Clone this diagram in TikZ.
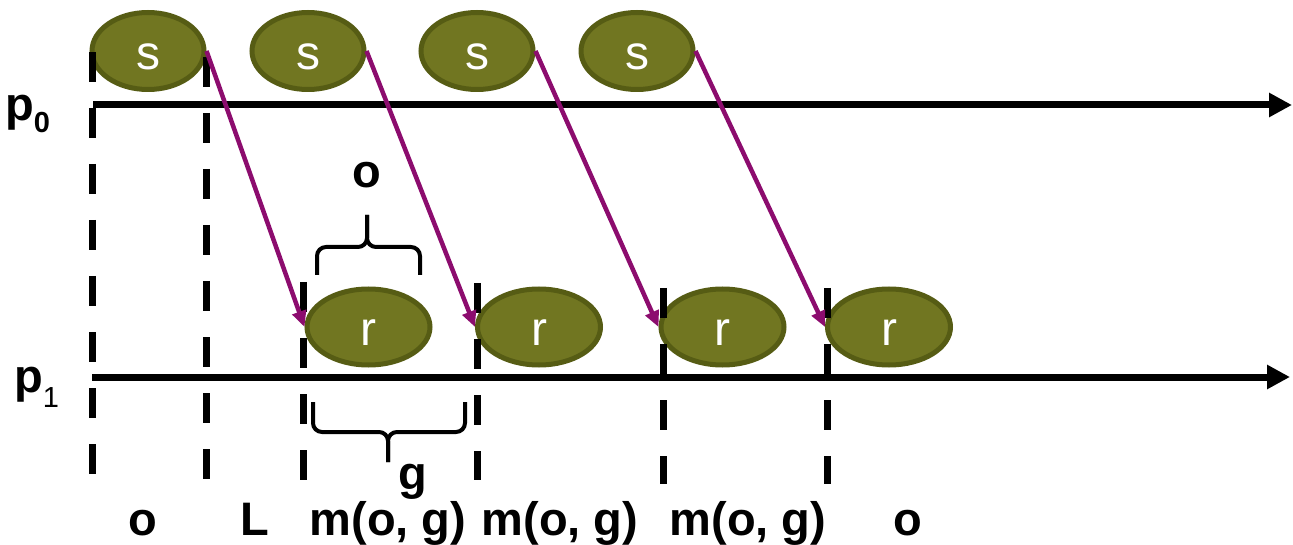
\documentclass[tikz,border=0pt]{standalone}
\usepackage{fontspec}
\setmainfont{Liberation Sans}
\usetikzlibrary{shapes.geometric,arrows.meta}
\definecolor{olivefill}{RGB}{113,118,33}
\definecolor{olivedraw}{RGB}{86,92,20}
\definecolor{msgcol}{RGB}{140,12,110}
\begin{document}
\begin{tikzpicture}[x=1pt,y=-1pt,
  sbox/.style={ellipse, draw=olivedraw, fill=olivefill, line width=5pt, minimum width=112pt, minimum height=77pt, inner sep=0pt},
  rbox/.style={sbox, minimum width=123pt, minimum height=76pt},
  intxt/.style={text=white, font=\fontsize{48}{48}\selectfont, anchor=base, inner sep=0pt},
  lbl/.style={font=\bfseries\fontsize{47}{47}\selectfont, anchor=base, inner sep=0pt},
  timeline/.style={line width=7pt, -{Triangle[length=23pt,width=23pt]}},
  msg/.style={draw=msgcol, line width=4.5pt, -{Triangle[length=16pt,width=14pt]}},
  tick/.style={line width=7pt, dash pattern=on 30pt off 26pt},
  brace/.style={line width=4pt, rounded corners=9pt}]
\useasboundingbox (0,0) rectangle (1293,545);

% timelines
\coordinate (p0s) at (93,105);
\coordinate (p0e) at (1292,105);
\coordinate (p1s) at (92,377);
\coordinate (p1e) at (1290,377);
\draw[timeline] (p0s) -- (p0e);
\draw[timeline] (p1s) -- (p1e);

% send events
\node[sbox] (s1) at (148,51) {};
\node[sbox] (s2) at (308,51) {};
\node[sbox] (s3) at (477,51) {};
\node[sbox] (s4) at (637,51) {};
\foreach \n in {s1,s2,s3,s4}
  \node[intxt] (t\n) at ([yshift=-19pt]\n.center) {s};

% receive events
\node[rbox] (r1) at (368.5,327) {};
\node[rbox] (r2) at (539,327) {};
\node[rbox] (r3) at (722.5,327) {};
\node[rbox] (r4) at (889,327) {};
\foreach \n in {r1,r2,r3,r4}
  \node[intxt] (t\n) at ([yshift=-18pt]\n.center) {r};

% dashed ticks
\draw[tick] (92,52) -- (92,474);
\draw[tick] (206,57) -- (206,480);
\draw[tick] (303,282) -- (303,480);
\draw[tick] (477,283) -- (477,480);
\draw[tick] (663,288) -- (663,484);
\draw[tick] (827,288) -- (827,484);

% messages
\draw[msg] (s1.east) -- (r1.west);
\draw[msg] (s2.east) -- (r2.west);
\draw[msg] (s3.east) -- (r3.west);
\draw[msg] (s4.east) -- (r4.west);

% braces
\draw[brace] (317,275) -- (317,247) -- (367,247) -- (367,215);
\draw[brace] (420,275) -- (420,247) -- (367,247) -- (367,215);
\draw[brace] (313,402) -- (313,432) -- (388,432) -- (388,462);
\draw[brace] (465,402) -- (465,432) -- (388,432) -- (388,462);

% labels
\node[lbl, anchor=base west] (p0) at (5,121) {p\raisebox{-12pt}{\fontsize{29}{29}\selectfont 0}};
\node[lbl, anchor=base west] (p1) at (14,392) {p\raisebox{-15pt}{\mdseries\fontsize{29}{29}\selectfont 1}};
\node[lbl] (lo) at (367,188) {o};
\node[lbl] (lg) at (413,489) {g};
\node[lbl] (b1) at (143,535) {o};
\node[lbl] (b2) at (255,535) {L};
\node[lbl] (b3) at (388,535) {m(o, g)};
\node[lbl] (b4) at (560,535) {m(o, g)};
\node[lbl] (b5) at (748,535) {m(o, g)};
\node[lbl] (b6) at (908,535) {o};
\end{tikzpicture}
\end{document}
